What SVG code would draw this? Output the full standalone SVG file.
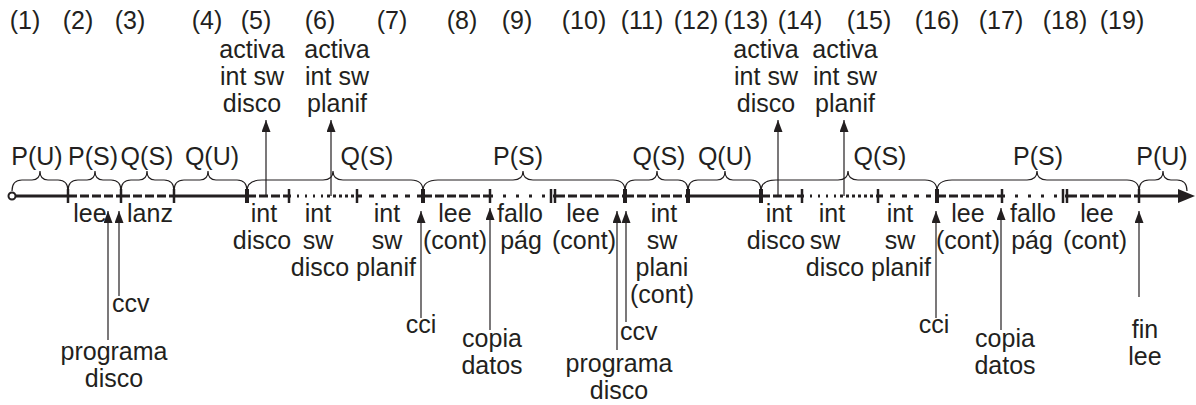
<svg xmlns="http://www.w3.org/2000/svg" width="1196" height="405" viewBox="0 0 1196 405">
<defs>
<style>
text{font-family:"Liberation Sans",Arial,sans-serif;font-size:25px;fill:#231f20;text-anchor:middle}
.st{text-anchor:start}
.seg{stroke:#231f20;stroke-width:3;fill:none}
.tk{stroke:#231f20;stroke-width:2.5}
.tk2{stroke:#231f20;stroke-width:4}
.br{stroke:#231f20;stroke-width:1.2;fill:none}
.ar{stroke:#231f20;stroke-width:1.2;fill:none;marker-end:url(#ah)}
</style>
<marker id="ah" markerUnits="userSpaceOnUse" markerWidth="12" markerHeight="9" refX="12" refY="4.5" orient="auto">
<path d="M0,0 L12,4.5 L0,9 z" fill="#231f20"/>
</marker>
</defs>
<g id="numbers">
<text x="25" y="29">(1)</text><text x="78" y="29">(2)</text><text x="130" y="29">(3)</text><text x="207" y="29">(4)</text><text x="256" y="29">(5)</text><text x="320" y="29">(6)</text><text x="392" y="29">(7)</text><text x="462" y="29">(8)</text><text x="517" y="29">(9)</text><text x="584" y="29">(10)</text><text x="642" y="29">(11)</text><text x="696" y="29">(12)</text><text x="746" y="29">(13)</text><text x="800" y="29">(14)</text><text x="869" y="29">(15)</text><text x="937" y="29">(16)</text><text x="1001" y="29">(17)</text><text x="1065" y="29">(18)</text><text x="1122" y="29">(19)</text>
</g>
<g id="timeline">
<line class="seg" x1="15" y1="196" x2="68" y2="196"/>
<line class="seg" x1="68" y1="196" x2="121" y2="196" stroke-dasharray="9,3"/>
<line class="seg" x1="121" y1="196" x2="174" y2="196" stroke-dasharray="9,3"/>
<line class="seg" x1="174" y1="196" x2="247" y2="196"/>
<line class="seg" x1="247" y1="196" x2="289" y2="196" stroke-dasharray="9,3"/>
<line class="seg" x1="289" y1="196" x2="327" y2="196" stroke-dasharray="2,6"/>
<line class="seg" x1="327" y1="196" x2="357" y2="196" stroke-dasharray="3,3"/>
<line class="seg" x1="357" y1="196" x2="423" y2="196" stroke-dasharray="5,7"/>
<line class="seg" x1="423" y1="196" x2="490" y2="196" stroke-dasharray="9,3"/>
<line class="seg" x1="490" y1="196" x2="553" y2="196" stroke-dasharray="3,10"/>
<line class="seg" x1="553" y1="196" x2="625" y2="196" stroke-dasharray="12,3,9,3"/>
<line class="seg" x1="625" y1="196" x2="688" y2="196" stroke-dasharray="9,3"/>
<line class="seg" x1="688" y1="196" x2="761" y2="196"/>
<line class="seg" x1="761" y1="196" x2="802" y2="196" stroke-dasharray="9,3"/>
<line class="seg" x1="802" y1="196" x2="840" y2="196" stroke-dasharray="2,6"/>
<line class="seg" x1="840" y1="196" x2="878" y2="196" stroke-dasharray="3,3"/>
<line class="seg" x1="878" y1="196" x2="937" y2="196" stroke-dasharray="5,7"/>
<line class="seg" x1="937" y1="196" x2="1002" y2="196" stroke-dasharray="9,3"/>
<line class="seg" x1="1002" y1="196" x2="1065" y2="196" stroke-dasharray="3,10"/>
<line class="seg" x1="1065" y1="196" x2="1139" y2="196" stroke-dasharray="12,3,9,3"/>
<line class="seg" x1="1139" y1="196" x2="1182" y2="196"/>
<polygon points="1178,189 1195,196 1178,203" fill="#231f20"/>
<circle cx="12" cy="196" r="3.5" fill="#fff" stroke="#231f20" stroke-width="2"/>
<line class="tk" x1="68" y1="189" x2="68" y2="203"/>
<line class="tk" x1="121" y1="189" x2="121" y2="203"/>
<line class="tk" x1="174" y1="189" x2="174" y2="203"/>
<line class="tk2" x1="247" y1="189" x2="247" y2="203"/>
<line class="tk" x1="289" y1="189" x2="289" y2="203"/>
<line class="tk" x1="357" y1="189" x2="357" y2="203"/>
<line class="tk2" x1="423" y1="189" x2="423" y2="203"/>
<line class="tk" x1="490" y1="189" x2="490" y2="203"/>
<line class="tk" x1="551" y1="189" x2="551" y2="203"/>
<line class="tk" x1="555" y1="189" x2="555" y2="203"/>
<line class="tk2" x1="625" y1="189" x2="625" y2="203"/>
<line class="tk2" x1="688" y1="189" x2="688" y2="203"/>
<line class="tk2" x1="761" y1="189" x2="761" y2="203"/>
<line class="tk" x1="802" y1="189" x2="802" y2="203"/>
<line class="tk" x1="878" y1="189" x2="878" y2="203"/>
<line class="tk2" x1="937" y1="189" x2="937" y2="203"/>
<line class="tk" x1="1002" y1="189" x2="1002" y2="203"/>
<line class="tk" x1="1063" y1="189" x2="1063" y2="203"/>
<line class="tk" x1="1067" y1="189" x2="1067" y2="203"/>
<line class="tk" x1="1139" y1="189" x2="1139" y2="203"/>
</g>
<g id="braces">
<path class="br" d="M12,191 C12,183 16,180 22,180 L32,180 C37,180 40,177 40,171 C40,177 43,180 48,180 L58,180 C64,180 68,183 68,191"/>
<path class="br" d="M68,191 C68,183 72,180 78,180 L87,180 C92,180 95,177 95,171 C95,177 98,180 103,180 L111,180 C117,180 121,183 121,191"/>
<path class="br" d="M121,191 C121,183 125,180 131,180 L139,180 C144,180 147,177 147,171 C147,177 150,180 155,180 L164,180 C170,180 174,183 174,191"/>
<path class="br" d="M174,191 C174,183 178,180 184,180 L200,180 C205,180 208,177 208,171 C208,177 211,180 216,180 L237,180 C243,180 247,183 247,191"/>
<path class="br" d="M247,191 C247,183 252,180 262,180 L323,180 C329,180 333,177 333,171 C333,177 337,180 343,180 L411,180 C419,180 423,183 423,191"/>
<path class="br" d="M423,191 C423,183 428,180 438,180 L513,180 C519,180 523,177 523,171 C523,177 527,180 533,180 L613,180 C621,180 625,183 625,191"/>
<path class="br" d="M625,191 C625,183 629,180 635,180 L649,180 C654,180 657,177 657,171 C657,177 660,180 665,180 L678,180 C684,180 688,183 688,191"/>
<path class="br" d="M688,191 C688,183 692,180 698,180 L717,180 C722,180 725,177 725,171 C725,177 728,180 733,180 L751,180 C757,180 761,183 761,191"/>
<path class="br" d="M761,191 C761,183 766,180 776,180 L838,180 C844,180 848,177 848,171 C848,177 852,180 858,180 L925,180 C933,180 937,183 937,191"/>
<path class="br" d="M937,191 C937,183 942,180 952,180 L1027,180 C1033,180 1037,177 1037,171 C1037,177 1041,180 1047,180 L1127,180 C1135,180 1139,183 1139,191"/>
<path class="br" d="M1139,191 C1139,183 1143,180 1149,180 L1155,180 C1160,180 1163,177 1163,171 C1163,177 1166,180 1171,180 L1177,180 C1183,180 1187,183 1187,191"/>
</g>
<g id="brace-labels">
<text x="37" y="165">P(U)</text><text x="93" y="165">P(S)</text><text x="147" y="165">Q(S)</text><text x="212" y="165">Q(U)</text><text x="367" y="165">Q(S)</text><text x="518" y="165">P(S)</text><text x="659" y="165">Q(S)</text><text x="725" y="165">Q(U)</text><text x="880" y="165">Q(S)</text><text x="1038" y="165">P(S)</text><text x="1162" y="165">P(U)</text>
</g>
<g id="events-top">
<text x="252" y="58">activa</text><text x="252" y="85">int sw</text><text x="252" y="112">disco</text>
<text x="337" y="58">activa</text><text x="337" y="85">int sw</text><text x="337" y="112">planif</text>
<text x="766" y="58">activa</text><text x="766" y="85">int sw</text><text x="766" y="112">disco</text>
<text x="845" y="58">activa</text><text x="845" y="85">int sw</text><text x="845" y="112">planif</text>
</g>
<g id="segment-labels">
<text x="90" y="222">lee</text>
<text x="150" y="222">lanz</text>
<text x="264" y="222">int</text><text x="262" y="249">disco</text>
<text x="318" y="222">int</text><text x="318" y="249">sw</text><text x="320" y="276">disco</text>
<text x="387" y="222">int</text><text x="387" y="249">sw</text><text x="386" y="276">planif</text>
<text x="455" y="222">lee</text><text x="455" y="249">(cont)</text>
<text x="520" y="222">fallo</text><text x="521" y="249">pág</text>
<text x="583" y="222">lee</text><text x="584" y="249">(cont)</text>
<text x="664" y="222">int</text><text x="662" y="249">sw</text><text x="662" y="276">plani</text><text x="662" y="303">(cont)</text>
<text x="779" y="222">int</text><text x="776" y="249">disco</text>
<text x="832" y="222">int</text><text x="825" y="249">sw</text><text x="835" y="276">disco</text>
<text x="900" y="222">int</text><text x="900" y="249">sw</text><text x="901" y="276">planif</text>
<text x="968" y="222">lee</text><text x="968" y="249">(cont)</text>
<text x="1033" y="222">fallo</text><text x="1032" y="249">pág</text>
<text x="1097" y="222">lee</text><text x="1095" y="249">(cont)</text>
</g>
<g id="events-bottom">
<text class="st" x="112" y="312">ccv</text>
<text x="114" y="360">programa</text><text x="114" y="387">disco</text>
<text x="421" y="333">cci</text>
<text x="492" y="347">copia</text><text x="492" y="374">datos</text>
<text class="st" x="620" y="340">ccv</text>
<text x="619" y="372">programa</text><text x="619" y="399">disco</text>
<text x="934" y="333">cci</text>
<text x="1005" y="347">copia</text><text x="1005" y="374">datos</text>
<text x="1145" y="338">fin</text><text x="1145" y="365">lee</text>
</g>
<g id="connectors">
<line class="ar" x1="266" y1="196" x2="266" y2="120"/>
<line class="ar" x1="331" y1="196" x2="331" y2="120"/>
<line class="ar" x1="778" y1="196" x2="778" y2="120"/>
<line class="ar" x1="844" y1="196" x2="844" y2="120"/>
<line class="ar" x1="108" y1="340" x2="108" y2="211"/>
<line class="ar" x1="119" y1="296" x2="119" y2="211"/>
<line class="ar" x1="421" y1="318" x2="421" y2="211"/>
<line class="ar" x1="490" y1="330" x2="490" y2="208"/>
<line class="ar" x1="617" y1="350" x2="617" y2="211"/>
<line class="ar" x1="626" y1="322" x2="626" y2="211"/>
<line class="ar" x1="936" y1="318" x2="936" y2="211"/>
<line class="ar" x1="1001" y1="330" x2="1001" y2="208"/>
<line class="ar" x1="1139" y1="297" x2="1139" y2="211"/>
</g>
</svg>
